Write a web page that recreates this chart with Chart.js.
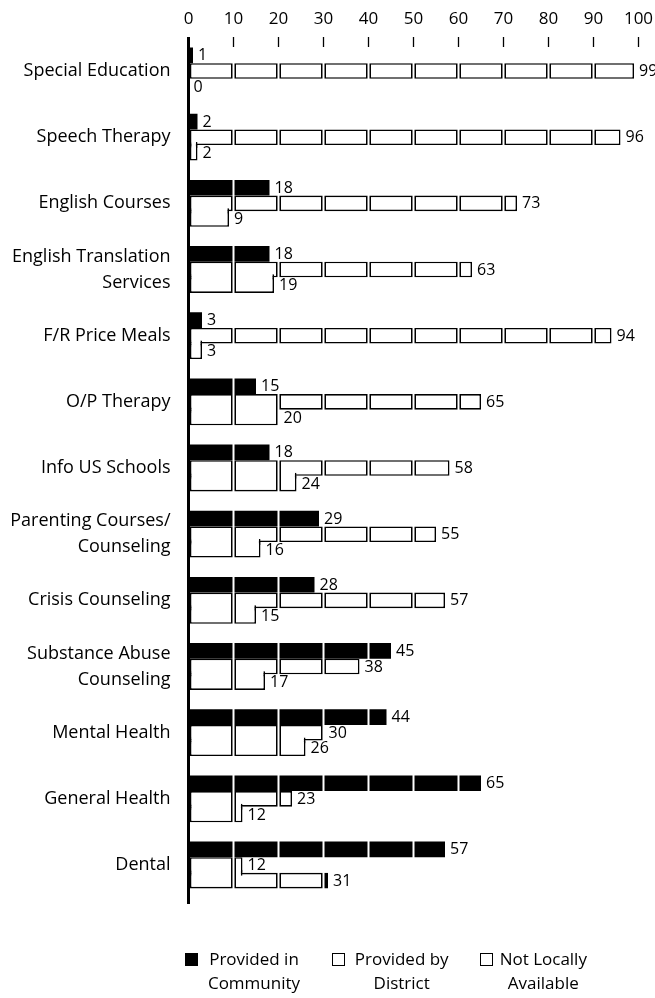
<!DOCTYPE html>
<html>
<head>
<meta charset="utf-8">
<title>Service availability</title>
<script src="https://cdn.jsdelivr.net/npm/chart.js@4.4.1/dist/chart.umd.min.js"></script>
<style>
  html, body { margin: 0; padding: 0; background: #fff; }
  #wrap { position: relative; width: 655px; height: 998px; }
  #legend { position: absolute; left: 0; top: 0; font-family: 'Open Sans', sans-serif; font-size: 17px; color: #000; }
  #legend .swatch { position: absolute; top: 953px; width: 13px; height: 13px; box-sizing: border-box; border: 1.6px solid #000; }
  #legend .name { position: absolute; top: 947px; width: 130px; text-align: center; line-height: 24px; white-space: nowrap; }
</style>
</head>
<body>
<div id="wrap">
  <canvas id="chart"></canvas>
  <div id="legend"></div>
</div>
<script>
// data
const categories = [
    'Special Education', 'Speech Therapy', 'English Courses', ['English Translation', 'Services'],
    'F/R Price Meals', 'O/P Therapy', 'Info US Schools', ['Parenting Courses/', 'Counseling'],
    'Crisis Counseling', ['Substance Abuse', 'Counseling'], 'Mental Health', 'General Health', 'Dental'
];
const community = [1, 2, 18, 18, 3, 15, 18, 29, 28, 45, 44, 65, 57];
const district  = [0, 2, 9, 19, 3, 20, 24, 16, 15, 17, 26, 12, 12];
const notLocal  = [99, 96, 73, 63, 94, 65, 58, 55, 57, 38, 30, 23, 31];
const seriesNames = [['Provided in', 'Community'], ['Provided by', 'District'], ['Not Locally', 'Available']];
const seriesColors = ['#000', '#fff', '#fff'];
const valueTicks = [0, 10, 20, 30, 40, 50, 60, 70, 80, 90, 100];

// the original puts Dental's district bar in the middle row
const districtMiddle = ['Dental'];

const BLOCK = 10;
const ROW_PX = 15.6;          // height of one bar row
const PLOT_H = 856;           // chart area height
const Y_MIN = -0.363, Y_MAX = 12.574;
const ROW_U = ROW_PX * (Y_MAX - Y_MIN) / PLOT_H;
const FONT = "'Open Sans', sans-serif";

const swapped = i => districtMiddle.includes(categories[i]);
const midRow = notLocal.map((v, i) => swapped(i) ? district[i] : v);
const botRow = district.map((v, i) => swapped(i) ? notLocal[i] : v);
const blocks = valueTicks.slice(0, -1).map(v => v / BLOCK);

// one 10-unit block of a bar
function piece(values, k) {
    const lo = k * BLOCK, hi = lo + BLOCK;
    return values.map(v => v > lo ? [lo, Math.min(v, hi)] : null);
}
// part of a block shared by the middle and bottom rows (hides the line between them)
function seam(a, b, k) {
    const lo = k * BLOCK, hi = lo + BLOCK;
    return a.map((v, i) => {
        const e = Math.min(v, b[i], hi);
        return e > lo ? [lo, e] : null;
    });
}
// thicker right edge on full blocks (a gap is cut there) and on tiny stubs
const edge = r => (r && (r[1] % BLOCK === 0 || r[1] - r[0] < 2)) ? 2.5 : 1.6;
const boxStyle = {
    backgroundColor: '#fff',
    borderColor: '#000',
    borderSkipped: false,
    inflateAmount: 0,
    borderWidth: c => ({ top: 1.6, bottom: 1.6, left: 2.5, right: edge(c.raw) })
};

const datasets = [];
blocks.forEach(k => {
    datasets.push({ data: piece(community, k), yAxisID: 'yTop', order: 1, backgroundColor: '#000', borderWidth: 0, inflateAmount: 0 });
    datasets.push(Object.assign({ data: piece(midRow, k), yAxisID: 'y', order: 2 }, boxStyle));
    datasets.push(Object.assign({ data: piece(botRow, k), yAxisID: 'yBot', order: 3 }, boxStyle));
    datasets.push({
        data: seam(midRow, botRow, k), yAxisID: 'ySeam', barThickness: 6, order: 0,
        backgroundColor: '#fff', borderColor: '#000', borderSkipped: false, inflateAmount: 0,
        borderWidth: c => ({ top: 0, bottom: 0, left: 2.5, right: edge(c.raw) })
    });
});

// hidden index axes, shifted so each row sits above/below the labelled one
const rowAxis = shift => ({
    type: 'linear', reverse: true, display: false, offset: false, bounds: 'data',
    min: Y_MIN + shift, max: Y_MAX + shift
});

// white gaps between blocks, then the value labels
const overlay = {
    id: 'overlay',
    afterDatasetsDraw(chart) {
        const { ctx, chartArea: a, scales } = chart;
        const x = scales.x;
        ctx.save();
        ctx.fillStyle = '#fff';
        valueTicks.slice(1, -1).forEach(v => {
            const px = x.getPixelForValue(v);
            ctx.fillRect(px - 1, a.top, 2, a.bottom - a.top);
        });
        ctx.fillStyle = '#000';
        ctx.font = '16px ' + FONT;
        ctx.textBaseline = 'middle';
        [[community, 'yTop'], [midRow, 'y'], [botRow, 'yBot']].forEach(([vals, id]) => vals.forEach((v, i) => {
            ctx.fillText(String(v), x.getPixelForValue(v) + 5, scales[id].getPixelForValue(i) + 0.5);
        }));
        ctx.restore();
    }
};

new Chart(document.getElementById('chart'), {
    type: 'bar',
    data: { labels: categories.map((c, i) => i), datasets: datasets },
    plugins: [overlay],
    options: {
        indexAxis: 'y',
        responsive: true,
        maintainAspectRatio: false,
        animation: false,
        layout: { padding: { top: 0, right: 16.5, bottom: 95, left: 0 } },
        datasets: { bar: { grouped: false, barThickness: ROW_PX } },
        plugins: { legend: { display: false }, tooltip: { enabled: false } },
        scales: {
            x: {
                type: 'linear', position: 'top', min: 0, max: 100, stacked: false,
                afterBuildTicks: s => { s.ticks = valueTicks.map(v => ({ value: v })); },
                afterFit: s => { s.height = 47; s.paddingLeft = 0; s.paddingRight = 0; },
                ticks: { color: '#000', font: { family: FONT, size: 17 }, padding: 8, maxRotation: 0, autoSkip: false },
                grid: { drawOnChartArea: false, drawTicks: true, tickLength: 10, tickColor: '#000', tickWidth: c => c.index === 0 ? 3 : 1.3 },
                border: { display: false }
            },
            y: {
                type: 'linear', reverse: true, offset: false, min: Y_MIN, max: Y_MAX, bounds: 'data',
                afterBuildTicks: s => { s.ticks = categories.map((c, i) => ({ value: i })); },
                afterFit: s => { s.width = 188.5; },
                ticks: { color: '#000', font: { family: FONT, size: 18, lineHeight: 1.45 }, padding: 18, autoSkip: false, callback: v => categories[v] },
                grid: { drawOnChartArea: false, drawTicks: false },
                border: { display: true, color: '#000', width: 3 }
            },
            yTop: rowAxis(ROW_U),
            yBot: rowAxis(-ROW_U),
            ySeam: rowAxis(-ROW_U / 2)
        }
    }
});

// legend under the plot
const swatchX = [185, 331.7, 480];
const nameCenter = [254, 401.7, 543.3];
const legend = document.getElementById('legend');
seriesNames.forEach((name, i) => {
    const sw = document.createElement('div');
    sw.className = 'swatch';
    sw.style.left = swatchX[i] + 'px';
    sw.style.background = seriesColors[i];
    legend.appendChild(sw);
    const tx = document.createElement('div');
    tx.className = 'name';
    tx.style.left = (nameCenter[i] - 65) + 'px';
    tx.innerHTML = name.join('<br>');
    legend.appendChild(tx);
});
</script>
</body>
</html>
